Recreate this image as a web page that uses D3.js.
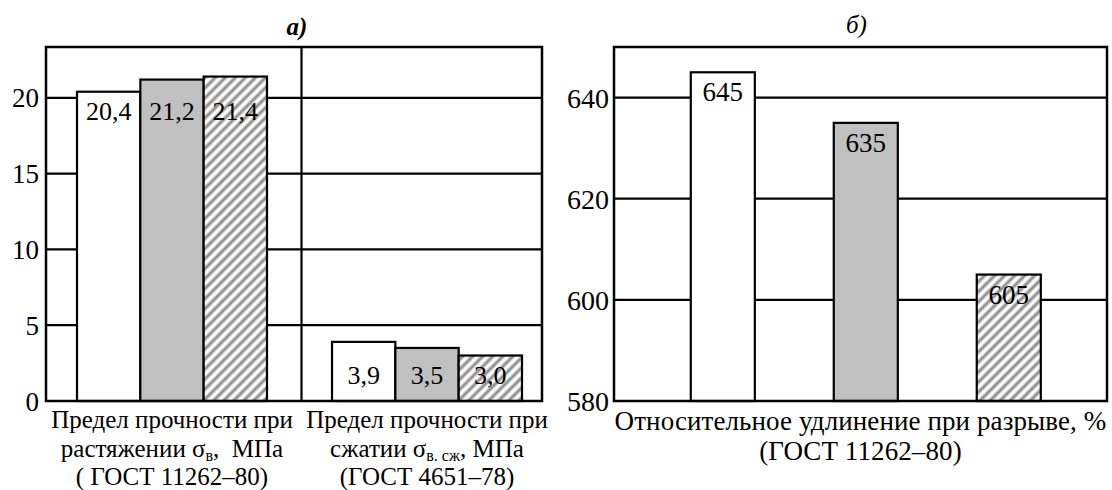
<!DOCTYPE html>
<html>
<head>
<meta charset="utf-8">
<script src="https://cdn.jsdelivr.net/npm/d3@7"></script>
<style>
  html, body { margin: 0; padding: 0; background: #fff; }
  svg text { fill: #000; white-space: pre; }
</style>
</head>
<body>
<svg id="chart" width="1112" height="490"></svg>
<script>
// ---- Panel а): strength, MPa ----
const strengthCategories = ["tension", "compression"];
const materials = ["m1", "m2", "m3"];
const strengthValues = [
  [20.4, 21.2, 21.4],
  [3.9, 3.5, 3.0]
];
const strengthValueLabels = [
  ["20,4", "21,2", "21,4"],
  ["3,9", "3,5", "3,0"]
];
const strengthTicks = [0, 5, 10, 15, 20];
const strengthAxisLabels = [
  [
    [{ t: "Предел прочности при" }],
    [{ t: "растяжении σ" }, { t: "в", sub: true }, { t: ",  МПа" }],
    [{ t: "( ГОСТ 11262–80)" }]
  ],
  [
    [{ t: "Предел прочности при" }],
    [{ t: "сжатии σ" }, { t: "в. сж", sub: true }, { t: ", МПа" }],
    [{ t: "(ГОСТ 4651–78)" }]
  ]
];

// ---- Panel б): elongation at break, % ----
const elongationValues = [645, 635, 605];
const elongationValueLabels = ["645", "635", "605"];
const elongationTicks = [580, 600, 620, 640];
const elongationAxisLabel = [
  [{ t: "Относительное удлинение при разрыве, %" }],
  [{ t: "(ГОСТ 11262–80)" }]
];

const FONT = "'Liberation Serif', 'Times New Roman', Tinos, serif";

const svg = d3.select("#chart").attr("font-family", FONT);
const defs = svg.append("defs");

// soft diagonal hatch for the third material
const grad = defs.append("linearGradient")
  .attr("id", "stripeGrad")
  .attr("x1", "0").attr("x2", "1").attr("y1", "0").attr("y2", "0");
[[0, "#ffffff"], [0.12, "#ffffff"], [0.5, "#7a7a7a"], [0.88, "#ffffff"], [1, "#ffffff"]]
  .forEach(([o, c]) => grad.append("stop").attr("offset", o).attr("stop-color", c));
const hatch = defs.append("pattern")
  .attr("id", "hatch")
  .attr("patternUnits", "userSpaceOnUse")
  .attr("width", 7.1).attr("height", 7.1)
  .attr("patternTransform", "rotate(45)");
hatch.append("rect").attr("width", 7.1).attr("height", 7.1).attr("fill", "url(#stripeGrad)");

const fills = ["#ffffff", "#c0c0c0", "url(#hatch)"];

function addLines(g, lines, cx, baselines, size, subSize, spacing) {
  lines.forEach((segs, i) => {
    const t = g.append("text")
      .attr("x", cx).attr("y", baselines[i])
      .attr("text-anchor", "middle")
      .attr("font-size", size)
      .attr("letter-spacing", spacing)
      .style("font-family", FONT);
    segs.forEach(s => {
      const ts = t.append("tspan").text(s.t);
      if (s.sub) ts.attr("font-size", subSize).attr("baseline-shift", "-25%");
    });
  });
}

// ================= Panel а) =================
{
  const P = { left: 46, right: 542, top: 47, bottom: 401 };
  const g = svg.append("g");

  const y = d3.scaleLinear().domain([0, 23.35]).range([P.bottom, P.top]);
  const x0 = d3.scaleBand().domain(strengthCategories)
    .range([P.left, P.right]).paddingInner(0.255).paddingOuter(0.1).align(0.608);
  const x1 = d3.scaleBand().domain(materials).range([0, x0.bandwidth()]);

  // horizontal grid
  g.append("g").selectAll("line").data(strengthTicks).join("line")
    .attr("x1", P.left).attr("x2", P.right)
    .attr("y1", d => y(d)).attr("y2", d => y(d))
    .attr("stroke", "#000").attr("stroke-width", 2.2);

  // separator between the two groups
  const sepX = (x0(strengthCategories[0]) + x0.bandwidth() + x0(strengthCategories[1])) / 2 + 2;
  g.append("line").attr("x1", sepX).attr("x2", sepX)
    .attr("y1", P.top).attr("y2", P.bottom)
    .attr("stroke", "#000").attr("stroke-width", 2.2);

  // bars with value labels aligned under the shortest bar of each group
  strengthCategories.forEach((cat, ci) => {
    const grp = g.append("g").attr("transform", `translate(${x0(cat)},0)`);
    grp.selectAll("rect").data(strengthValues[ci]).join("rect")
      .attr("x", (d, i) => x1(materials[i]))
      .attr("width", x1.bandwidth())
      .attr("y", d => y(d))
      .attr("height", d => y(0) - y(d))
      .attr("fill", (d, i) => fills[i])
      .attr("stroke", "#000").attr("stroke-width", 2.2);
    const labelY = y(d3.min(strengthValues[ci])) + 28;
    grp.selectAll("text").data(strengthValueLabels[ci]).join("text")
      .attr("x", (d, i) => x1(materials[i]) + x1.bandwidth() / 2)
      .attr("y", labelY)
      .attr("text-anchor", "middle")
      .attr("font-size", 26)
      .style("font-family", FONT)
      .text(d => d);
  });

  // frame
  g.append("rect").attr("x", P.left).attr("y", P.top)
    .attr("width", P.right - P.left).attr("height", P.bottom - P.top)
    .attr("fill", "none").attr("stroke", "#000").attr("stroke-width", 2.5);

  // y axis labels
  const ax = g.append("g").attr("transform", `translate(${P.left},0)`)
    .call(d3.axisLeft(y).tickValues(strengthTicks).tickSize(0).tickPadding(7));
  ax.attr("font-family", FONT);
  ax.select(".domain").remove();
  ax.selectAll("text").attr("font-size", 27).style("font-family", FONT).attr("dy", "0.34em");

  // category labels
  strengthCategories.forEach((cat, ci) => {
    addLines(g, strengthAxisLabels[ci], x0(cat) + x0.bandwidth() / 2, [428, 457, 485], 25, 16, 0);
  });

  // panel title
  g.append("text").attr("x", (P.left + P.right) / 2 + 3).attr("y", 35)
    .attr("text-anchor", "middle").attr("font-size", 25)
    .style("font-family", FONT)
    .attr("font-style", "italic").attr("font-weight", "bold").text("а)");
}

// ================= Panel б) =================
{
  const P = { left: 614, right: 1107, top: 47, bottom: 401 };
  const g = svg.append("g");

  const y = d3.scaleLinear().domain([580, 650]).range([P.bottom, P.top]);
  const x = d3.scaleBand().domain(materials)
    .range([P.left, P.right]).paddingInner(0.552).paddingOuter(0.5).align(0.537);

  g.append("g").selectAll("line").data(elongationTicks).join("line")
    .attr("x1", P.left).attr("x2", P.right)
    .attr("y1", d => y(d)).attr("y2", d => y(d))
    .attr("stroke", "#000").attr("stroke-width", 2.2);

  g.selectAll("rect.bar").data(elongationValues).join("rect")
    .attr("class", "bar")
    .attr("x", (d, i) => x(materials[i]))
    .attr("width", x.bandwidth())
    .attr("y", d => y(d))
    .attr("height", d => y(580) - y(d))
    .attr("fill", (d, i) => fills[i])
    .attr("stroke", "#000").attr("stroke-width", 2.2);

  g.selectAll("text.val").data(elongationValueLabels).join("text")
    .attr("class", "val")
    .attr("x", (d, i) => x(materials[i]) + x.bandwidth() / 2)
    .attr("y", (d, i) => y(elongationValues[i]) + 29)
    .attr("text-anchor", "middle")
    .attr("font-size", 27)
    .style("font-family", FONT)
    .text(d => d);

  g.append("rect").attr("x", P.left).attr("y", P.top)
    .attr("width", P.right - P.left).attr("height", P.bottom - P.top)
    .attr("fill", "none").attr("stroke", "#000").attr("stroke-width", 2.5);

  const ax = g.append("g").attr("transform", `translate(${P.left},0)`)
    .call(d3.axisLeft(y).tickValues(elongationTicks).tickSize(0).tickPadding(5));
  ax.attr("font-family", FONT);
  ax.select(".domain").remove();
  ax.selectAll("text").attr("font-size", 28).style("font-family", FONT).attr("dy", "0.34em");

  addLines(g, elongationAxisLabel, (P.left + P.right) / 2, [430, 460], 27, 17, 0.1);

  g.append("text").attr("x", (P.left + P.right) / 2 - 4).attr("y", 33)
    .attr("text-anchor", "middle").attr("font-size", 25)
    .style("font-family", FONT)
    .attr("font-style", "italic").text("б)");
}
</script>
</body>
</html>
